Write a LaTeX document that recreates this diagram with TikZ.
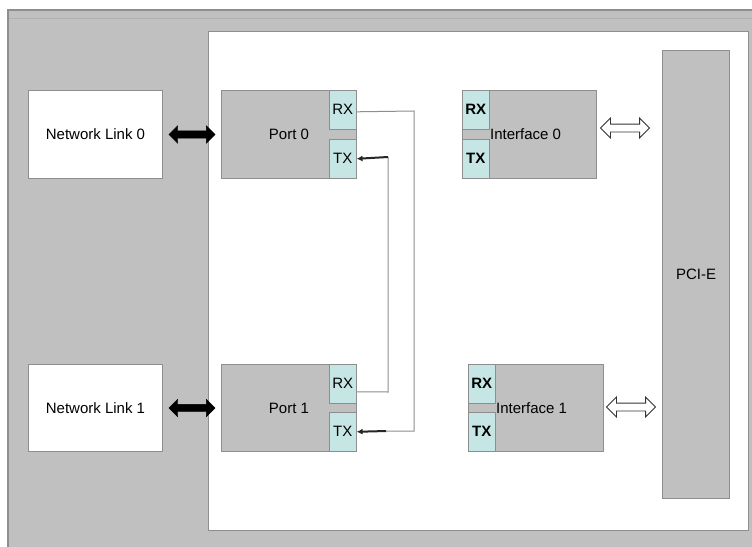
\documentclass[tikz,border=0pt]{standalone}
\usepackage{fontspec}
\setmainfont{Liberation Sans}
\usetikzlibrary{shapes.arrows,calc,arrows.meta}
\definecolor{boxgray}{HTML}{C0C0C0}
\definecolor{edgegray}{HTML}{8E8E8E}
\definecolor{cellcyan}{HTML}{C6E6E6}
\tikzset{
  blk/.style={draw=edgegray, line width=1pt, fill=boxgray, anchor=north west, inner sep=0pt, font=\fontsize{15}{18}\selectfont},
  wbox/.style={draw=edgegray, line width=1pt, fill=white, anchor=north west, inner sep=0pt, font=\fontsize{15}{18}\selectfont},
  cell/.style={draw=edgegray, line width=0.6pt, fill=cellcyan, anchor=north west, inner sep=0pt, minimum width=27pt, minimum height=39pt, font=\fontsize{15}{18}\selectfont},
  bcell/.style={cell, font=\fontsize{15}{18}\selectfont\bfseries},
  blackarrow/.style={double arrow, fill=black, draw=black, inner xsep=0pt, inner ysep=3.5pt, minimum height=46pt, double arrow head extend=5pt},
  hollowarrow/.style={double arrow, fill=white, draw=black!80, line width=0.9pt, inner xsep=0pt, inner ysep=3.5pt, minimum height=49pt, double arrow head extend=6pt},
  link/.style={draw=edgegray, line width=1pt},
  txlink/.style={draw=black!85, line width=2pt, -{Latex[length=6pt,width=6pt]}},
}
\begin{document}
\begin{tikzpicture}[x=1pt,y=-1pt]
\useasboundingbox (0,0) rectangle (752,546);
\fill[white] (0,0) rectangle (752,546);
% outer gray frame
\begin{scope}
\clip (0,0) rectangle (752,546);
\draw[draw=edgegray, line width=1.5pt, fill=boxgray] (8,10) rectangle (770,560);
\draw[draw=edgegray!70, line width=0.8pt] (9,18) -- (752,18);
\end{scope}
% inner white area
\node[wbox, minimum width=540pt, minimum height=499pt] (inner) at (208,31) {};
% network links
\node[wbox, minimum width=134pt, minimum height=88pt] (nl0) at (28,90) {Network Link 0};
\node[wbox, minimum width=134pt, minimum height=87pt] (nl1) at (28,364) {Network Link 1};
% ports
\node[blk, minimum width=135pt, minimum height=88pt] (p0) at (221,90) {};
\node[font=\fontsize{15}{18}\selectfont] at (289,134) {Port 0};
\node[cell] (p0rx) at (329,90) {RX};
\node[cell] (p0tx) at (329,139) {TX};
\node[blk, minimum width=135pt, minimum height=87pt] (p1) at (221,364) {};
\node[font=\fontsize{15}{18}\selectfont] at (289,408) {Port 1};
\node[cell] (p1rx) at (329,364) {RX};
\node[cell] (p1tx) at (329,412) {TX};
% interfaces
\node[blk, minimum width=134pt, minimum height=88pt] (if0) at (462,90) {};
\node[bcell] (i0rx) at (462,90) {RX};
\node[bcell] (i0tx) at (462,139) {TX};
\node[anchor=west, inner sep=0pt, font=\fontsize{15}{18}\selectfont] at (490,134) {Interface 0};
\node[blk, minimum width=135pt, minimum height=87pt] (if1) at (468,364) {};
\node[bcell] (i1rx) at (468,364) {RX};
\node[bcell] (i1tx) at (468,412) {TX};
\node[anchor=west, inner sep=0pt, font=\fontsize{15}{18}\selectfont] at (496,408) {Interface 1};
% PCI-E
\node[blk, minimum width=67pt, minimum height=448pt] (pcie) at (662,50) {};
\node[font=\fontsize{15}{18}\selectfont] at (pcie.center) {PCI-E};
% black double arrows
\node[blackarrow] (a0) at ($(nl0.east)!0.5!(p0.west)$) {};
\node[blackarrow] (a1) at ($(nl1.east)!0.5!(p1.west)$) {};
% hollow double arrows
\node[hollowarrow] (h0) at (625,128) {};
\node[hollowarrow] (h1) at (631,407) {};
% RX to TX connectors
\coordinate (c0a) at (414,111);
\coordinate (c0b) at (414,431);
\coordinate (c1a) at (388,392);
\coordinate (c1b) at (388,157);
\draw[link] ($(p0rx.east)+(0,2)$) -- (c0a) -- (c0b) -- ($(c0b)+(-28,0)$);
\draw[txlink] ($(c0b)+(-28,0)$) -- (p1tx.east);
\draw[link] ($(p1rx.east)+(0,8)$) -- (c1a) -- (c1b);
\draw[txlink] (c1b) -- (p0tx.east);
\end{tikzpicture}
\end{document}
